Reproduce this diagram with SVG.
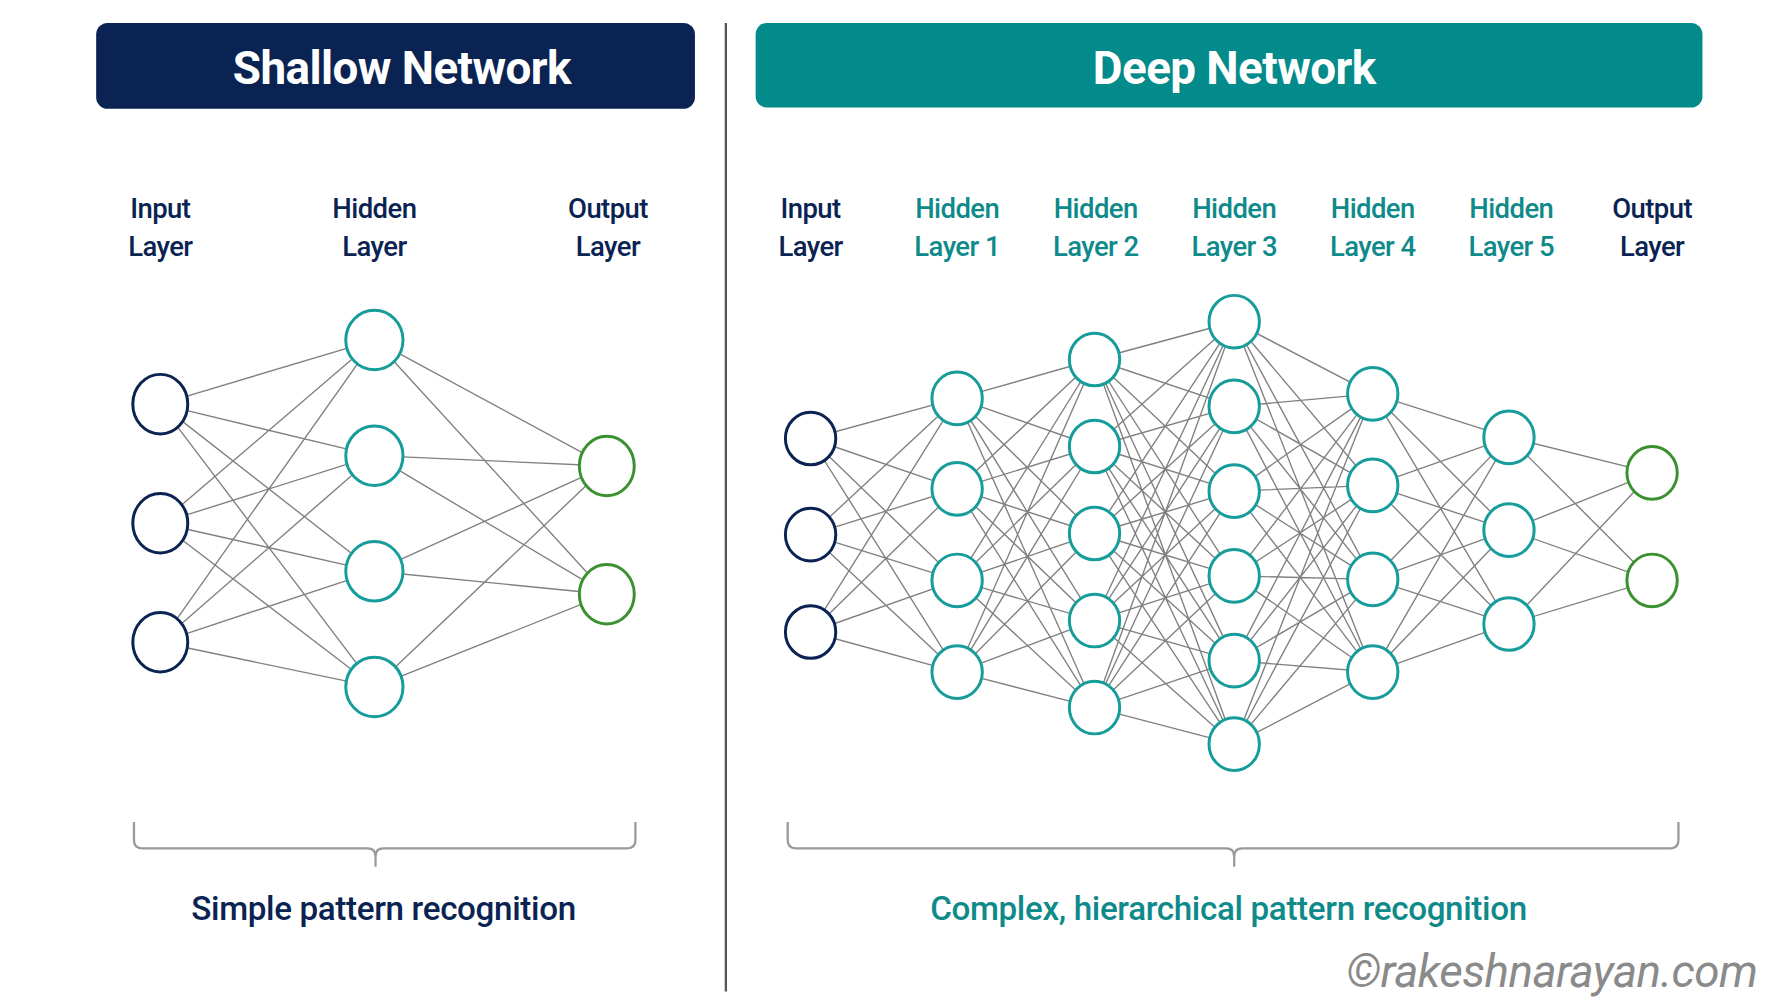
<svg xmlns="http://www.w3.org/2000/svg" width="1786" height="1006" viewBox="0 0 1786 1006">
<style>
.lbl{font-family:Roboto,"Liberation Sans",sans-serif;font-size:24px;font-weight:500;text-anchor:middle;letter-spacing:-0.5px}
.navy{fill:#0a2352}
.teal{fill:#0f8a8a}
.e{fill:none;stroke:#555;stroke-width:1.2;stroke-opacity:0.75}
.ni{fill:#fff;stroke:#0a2352;stroke-width:2.6}
.nh{fill:#fff;stroke:#179c9c;stroke-width:2.6}
.no{fill:#fff;stroke:#3b9130;stroke-width:2.6}
.br{fill:none;stroke:#9a9a9a;stroke-width:2}
</style>
<rect width="1786" height="1006" fill="#fff"/>
<g transform="scale(1.1449)">
<g id="shallow-header"><rect x="84" y="20" width="523" height="75" rx="10" fill="#0a2352"/><text x="351" y="73" font-family="Roboto,'Liberation Sans',sans-serif" font-size="40" font-weight="bold" fill="#fff" text-anchor="middle" letter-spacing="-0.5">Shallow Network</text></g>
<g id="deep-header"><rect x="660" y="20" width="827" height="74" rx="10" fill="#038a8a"/><text x="1078" y="73" font-family="Roboto,'Liberation Sans',sans-serif" font-size="40" font-weight="bold" fill="#fff" text-anchor="middle" letter-spacing="-0.5">Deep Network</text></g>
<line x1="634" y1="20" x2="634" y2="866" stroke="#555" stroke-width="2"/>
<g id="labels">
<text class="lbl navy" x="140" y="190">Input</text><text class="lbl navy" x="140" y="224">Layer</text>
<text class="lbl navy" x="327" y="190">Hidden</text><text class="lbl navy" x="327" y="224">Layer</text>
<text class="lbl navy" x="531" y="190">Output</text><text class="lbl navy" x="531" y="224">Layer</text>
<text class="lbl navy" x="708" y="190">Input</text><text class="lbl navy" x="708" y="224">Layer</text>
<text class="lbl teal" x="836" y="190">Hidden</text><text class="lbl teal" x="836" y="224">Layer 1</text>
<text class="lbl teal" x="957" y="190">Hidden</text><text class="lbl teal" x="957" y="224">Layer 2</text>
<text class="lbl teal" x="1078" y="190">Hidden</text><text class="lbl teal" x="1078" y="224">Layer 3</text>
<text class="lbl teal" x="1199" y="190">Hidden</text><text class="lbl teal" x="1199" y="224">Layer 4</text>
<text class="lbl teal" x="1320" y="190">Hidden</text><text class="lbl teal" x="1320" y="224">Layer 5</text>
<text class="lbl navy" x="1443" y="190">Output</text><text class="lbl navy" x="1443" y="224">Layer</text>
</g>
<g id="connectors">
<path class="e" d="M140 353L327 297M140 353L327 398M140 353L327 499M140 353L327 600M140 457L327 297M140 457L327 398M140 457L327 499M140 457L327 600M140 561L327 297M140 561L327 398M140 561L327 499M140 561L327 600"/>
<path class="e" d="M327 297L530 407M327 297L530 519M327 398L530 407M327 398L530 519M327 499L530 407M327 499L530 519M327 600L530 407M327 600L530 519"/>
<path class="e" d="M708 383L836 348M708 383L836 427M708 383L836 507M708 383L836 587M708 467L836 348M708 467L836 427M708 467L836 507M708 467L836 587M708 552L836 348M708 552L836 427M708 552L836 507M708 552L836 587"/>
<path class="e" d="M836 348L956 314M836 348L956 390M836 348L956 466M836 348L956 542M836 348L956 618M836 427L956 314M836 427L956 390M836 427L956 466M836 427L956 542M836 427L956 618M836 507L956 314M836 507L956 390M836 507L956 466M836 507L956 542M836 507L956 618M836 587L956 314M836 587L956 390M836 587L956 466M836 587L956 542M836 587L956 618"/>
<path class="e" d="M956 314L1078 281M956 314L1078 355M956 314L1078 429M956 314L1078 503M956 314L1078 577M956 314L1078 650M956 390L1078 281M956 390L1078 355M956 390L1078 429M956 390L1078 503M956 390L1078 577M956 390L1078 650M956 466L1078 281M956 466L1078 355M956 466L1078 429M956 466L1078 503M956 466L1078 577M956 466L1078 650M956 542L1078 281M956 542L1078 355M956 542L1078 429M956 542L1078 503M956 542L1078 577M956 542L1078 650M956 618L1078 281M956 618L1078 355M956 618L1078 429M956 618L1078 503M956 618L1078 577M956 618L1078 650"/>
<path class="e" d="M1078 281L1199 344M1078 281L1199 424M1078 281L1199 506M1078 281L1199 587M1078 355L1199 344M1078 355L1199 424M1078 355L1199 506M1078 355L1199 587M1078 429L1199 344M1078 429L1199 424M1078 429L1199 506M1078 429L1199 587M1078 503L1199 344M1078 503L1199 424M1078 503L1199 506M1078 503L1199 587M1078 577L1199 344M1078 577L1199 424M1078 577L1199 506M1078 577L1199 587M1078 650L1199 344M1078 650L1199 424M1078 650L1199 506M1078 650L1199 587"/>
<path class="e" d="M1199 344L1318 382M1199 344L1318 463M1199 344L1318 545M1199 424L1318 382M1199 424L1318 463M1199 424L1318 545M1199 506L1318 382M1199 506L1318 463M1199 506L1318 545M1199 587L1318 382M1199 587L1318 463M1199 587L1318 545"/>
<path class="e" d="M1318 382L1443 413M1318 382L1443 507M1318 463L1443 413M1318 463L1443 507M1318 545L1443 413M1318 545L1443 507"/>
</g>
<g id="shallow-nodes">
<ellipse class="ni" cx="140" cy="353" rx="24" ry="26"/><ellipse class="ni" cx="140" cy="457" rx="24" ry="26"/><ellipse class="ni" cx="140" cy="561" rx="24" ry="26"/>
<ellipse class="nh" cx="327" cy="297" rx="25" ry="26"/><ellipse class="nh" cx="327" cy="398" rx="25" ry="26"/><ellipse class="nh" cx="327" cy="499" rx="25" ry="26"/><ellipse class="nh" cx="327" cy="600" rx="25" ry="26"/>
<ellipse class="no" cx="530" cy="407" rx="24" ry="26"/><ellipse class="no" cx="530" cy="519" rx="24" ry="26"/>
</g>
<g id="deep-nodes">
<ellipse class="ni" cx="708" cy="383" rx="22" ry="23"/><ellipse class="ni" cx="708" cy="467" rx="22" ry="23"/><ellipse class="ni" cx="708" cy="552" rx="22" ry="23"/>
<ellipse class="nh" cx="836" cy="348" rx="22" ry="23"/><ellipse class="nh" cx="836" cy="427" rx="22" ry="23"/><ellipse class="nh" cx="836" cy="507" rx="22" ry="23"/><ellipse class="nh" cx="836" cy="587" rx="22" ry="23"/>
<ellipse class="nh" cx="956" cy="314" rx="22" ry="23"/><ellipse class="nh" cx="956" cy="390" rx="22" ry="23"/><ellipse class="nh" cx="956" cy="466" rx="22" ry="23"/><ellipse class="nh" cx="956" cy="542" rx="22" ry="23"/><ellipse class="nh" cx="956" cy="618" rx="22" ry="23"/>
<ellipse class="nh" cx="1078" cy="281" rx="22" ry="23"/><ellipse class="nh" cx="1078" cy="355" rx="22" ry="23"/><ellipse class="nh" cx="1078" cy="429" rx="22" ry="23"/><ellipse class="nh" cx="1078" cy="503" rx="22" ry="23"/><ellipse class="nh" cx="1078" cy="577" rx="22" ry="23"/><ellipse class="nh" cx="1078" cy="650" rx="22" ry="23"/>
<ellipse class="nh" cx="1199" cy="344" rx="22" ry="23"/><ellipse class="nh" cx="1199" cy="424" rx="22" ry="23"/><ellipse class="nh" cx="1199" cy="506" rx="22" ry="23"/><ellipse class="nh" cx="1199" cy="587" rx="22" ry="23"/>
<ellipse class="nh" cx="1318" cy="382" rx="22" ry="23"/><ellipse class="nh" cx="1318" cy="463" rx="22" ry="23"/><ellipse class="nh" cx="1318" cy="545" rx="22" ry="23"/>
<ellipse class="no" cx="1443" cy="413" rx="22" ry="23"/><ellipse class="no" cx="1443" cy="507" rx="22" ry="23"/>
</g>
<g id="brackets">
<path class="br" d="M117 718V734Q117 741 124 741H321Q328 741 328 748V757M328 748Q328 741 335 741H548Q555 741 555 734V718"/>
<path class="br" d="M688 718V734Q688 741 695 741H1071Q1078 741 1078 748V757M1078 748Q1078 741 1085 741H1459Q1466 741 1466 734V718"/>
</g>
<g id="captions">
<text x="335" y="804" font-family="Roboto,'Liberation Sans',sans-serif" font-size="29" font-weight="500" fill="#0a2352" text-anchor="middle" letter-spacing="-0.3">Simple pattern recognition</text>
<text x="1073" y="804" font-family="Roboto,'Liberation Sans',sans-serif" font-size="29" font-weight="500" fill="#0f8a8a" text-anchor="middle" letter-spacing="-0.3">Complex, hierarchical pattern recognition</text>
<text x="1535" y="862" font-family="Roboto,'Liberation Sans',sans-serif" font-size="40" font-style="italic" fill="#8a8a8a" text-anchor="end" letter-spacing="-0.5">©rakeshnarayan.com</text>
</g>
</g>
</svg>
